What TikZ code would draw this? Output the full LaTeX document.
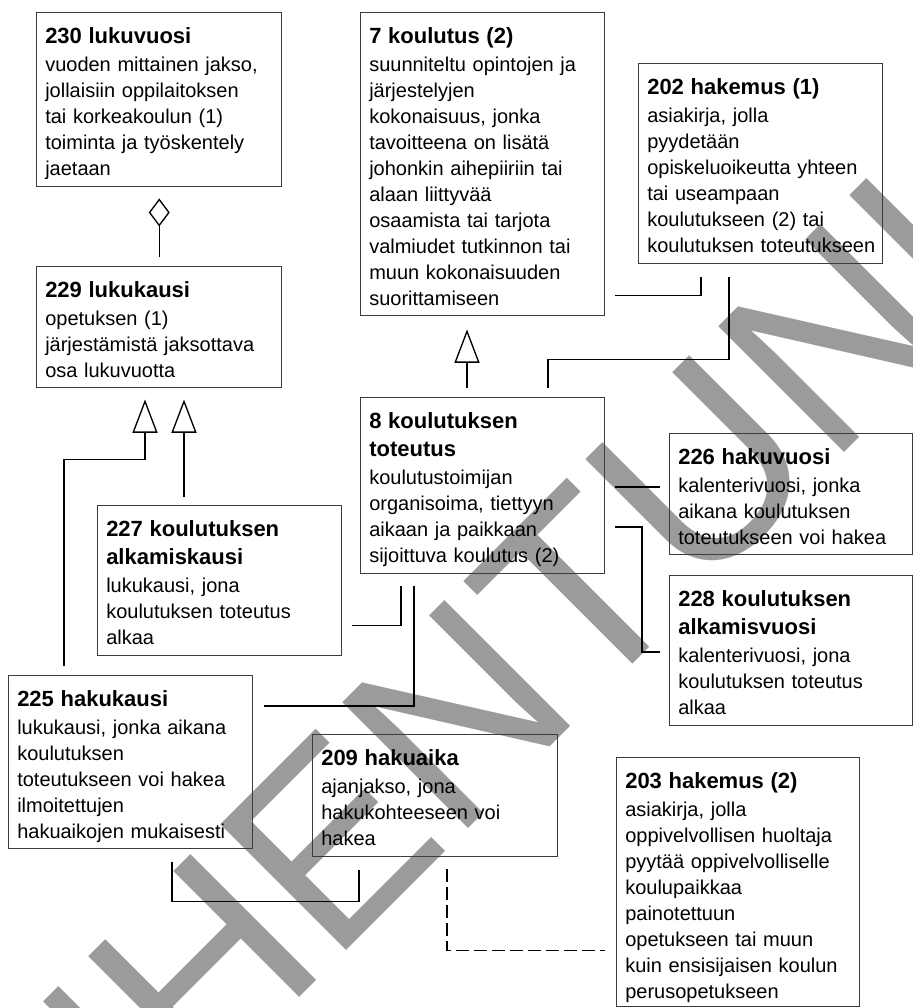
\documentclass[tikz,border=0pt]{standalone}
\usepackage{fontspec}
\setmainfont{Liberation Sans}
\usetikzlibrary{arrows.meta,calc}
\definecolor{wmgray}{RGB}{155,155,155}
\definecolor{boxline}{RGB}{60,60,60}
\tikzset{
  box/.style={draw=boxline, line width=1.1pt, inner sep=0pt, anchor=north west},
  txt/.style={inner sep=0pt, anchor=north west, text width=240pt, align=left,
    font=\fontsize{15}{19.5}\selectfont},
  conn/.style={line width=1pt, black},
  gen/.style={conn, -{Triangle[open, length=25pt, width=18.75pt]}},
  agg/.style={conn, -{Diamond[open, length=21pt, width=15.75pt]}},
  dashconn/.style={conn, dash pattern=on 9.5pt off 4pt},
  wm/.style={text=wmgray, font=\fontsize{194}{200}\selectfont, inner sep=0pt}
}
\newcommand\ttl[1]{{\fontsize{16.5}{21}\selectfont\bfseries #1}}
\newcommand\tbox[6]{%
  \node[box, minimum width=#4*0.75pt, minimum height=#5*0.75pt] (#1) at (#2,#3) {};
  \node[txt] (#1t) at ($(#1.north west)+(9,11)$) {\rule{0pt}{15pt}#6};
}
\begin{document}
\begin{tikzpicture}[x=0.75pt,y=-0.75pt]
\useasboundingbox (0,0) rectangle (913,1008);
\begin{scope}
  \clip (0,0) rectangle (913,1008);
  \node[wm, rotate=45, anchor=base] (wm) at (521,776) {VANHENTUNUT};
\end{scope}

\tbox{b230}{36}{12}{245}{174}{\ttl{230 lukuvuosi}\\[1.5pt]
  vuoden mittainen jakso,\\ jollaisiin oppilaitoksen\\ tai korkeakoulun (1)\\
  toiminta ja työskentely\\ jaetaan}
\tbox{b229}{36}{266}{245}{121}{\ttl{229 lukukausi}\\[1.5pt]
  opetuksen (1)\\ järjestämistä jaksottava\\ osa lukuvuotta}
\tbox{b7}{360}{12}{244}{303}{\ttl{7 koulutus (2)}\\[1.5pt]
  suunniteltu opintojen ja\\ järjestelyjen\\ kokonaisuus, jonka\\
  tavoitteena on lisätä\\ johonkin aihepiiriin tai\\ alaan liittyvää\\
  osaamista tai tarjota\\ valmiudet tutkinnon tai\\ muun kokonaisuuden\\ suorittamiseen}
\tbox{b202}{638}{63}{244}{200}{\ttl{202 hakemus (1)}\\[1.5pt]
  asiakirja, jolla\\ pyydetään\\ opiskeluoikeutta yhteen\\ tai useampaan\\
  koulutukseen (2) tai\\ koulutuksen toteutukseen}
\tbox{b8}{360}{397}{244}{176}{\ttl{8 koulutuksen}\\[1.5pt]\ttl{toteutus}\\[1.5pt]
  koulutustoimijan\\ organisoima, tiettyyn\\ aikaan ja paikkaan\\ sijoittuva koulutus (2)}
\tbox{b226}{669}{433}{243}{121}{\ttl{226 hakuvuosi}\\[1.5pt]
  kalenterivuosi, jonka\\ aikana koulutuksen\\ toteutukseen voi hakea}
\tbox{b227}{97}{505}{244}{150}{\ttl{227 koulutuksen}\\[1.5pt]\ttl{alkamiskausi}\\[1.5pt]
  lukukausi, jona\\ koulutuksen toteutus\\ alkaa}
\tbox{b228}{669}{575}{243}{150}{\ttl{228 koulutuksen}\\[1.5pt]\ttl{alkamisvuosi}\\[1.5pt]
  kalenterivuosi, jona\\ koulutuksen toteutus\\ alkaa}
\tbox{b225}{8}{675}{244}{173}{\ttl{225 hakukausi}\\[1.5pt]
  lukukausi, jonka aikana\\ koulutuksen\\ toteutukseen voi hakea\\
  ilmoitettujen\\ hakuaikojen mukaisesti}
\tbox{b209}{312}{734}{245}{122}{\ttl{209 hakuaika}\\[1.5pt]
  ajanjakso, jona\\ hakukohteeseen voi\\ hakea}
\tbox{b203}{616}{757}{243}{249}{\ttl{203 hakemus (2)}\\[1.5pt]
  asiakirja, jolla\\ oppivelvollisen huoltaja\\ pyytää oppivelvolliselle\\
  koulupaikkaa\\ painotettuun\\ opetukseen tai muun\\ kuin ensisijaisen koulun\\
  perusopetukseen}

% aggregation 229 -> 230
\draw[agg] ($(b229.north)+(0,-9)$) -- ($(b230.south)+(0,11)$);
% generalizations
\draw[gen] ($(b225.north west)+(56,-9)$) |- ($(b229.south west)+(109,71)$)
  -- ($(b229.south west)+(109,11)$);
\draw[gen] ($(b227.north west)+(87,-8)$) -- ($(b229.south west)+(148,11)$);
\draw[gen] ($(b8.north west)+(107,-9)$) -- ($(b7.south west)+(107,13)$);
% associations
\draw[conn] ($(b8.north west)+(188,-9)$) |- ($(b202.south west)+(91,95)$)
  -- ($(b202.south west)+(91,13)$);
\draw[conn] ($(b7.south east)+(10,-21)$) -| ($(b202.south west)+(63,13)$);
\draw[conn] ($(b8.north east)+(10,90)$) -- ($(b226.north west)+(-9,54)$);
\draw[conn] ($(b8.north east)+(10,130)$) -| ($(b228.north west)+(-27,77)$)
  -- ($(b228.north west)+(-9,77)$);
\draw[conn] ($(b227.south east)+(10,-31)$) -| ($(b8.south west)+(41,12)$);
\draw[conn] ($(b225.north east)+(11,31)$) -| ($(b8.south west)+(54,12)$);
\draw[conn] ($(b225.south west)+(164,13)$) -- ($(b225.south west)+(164,52)$)
  -| ($(b209.south west)+(47,13)$);
\draw[dashconn] ($(b209.south west)+(135,12)$) |- ($(b203.south west)+(-11,-57)$);
\end{tikzpicture}
\end{document}
